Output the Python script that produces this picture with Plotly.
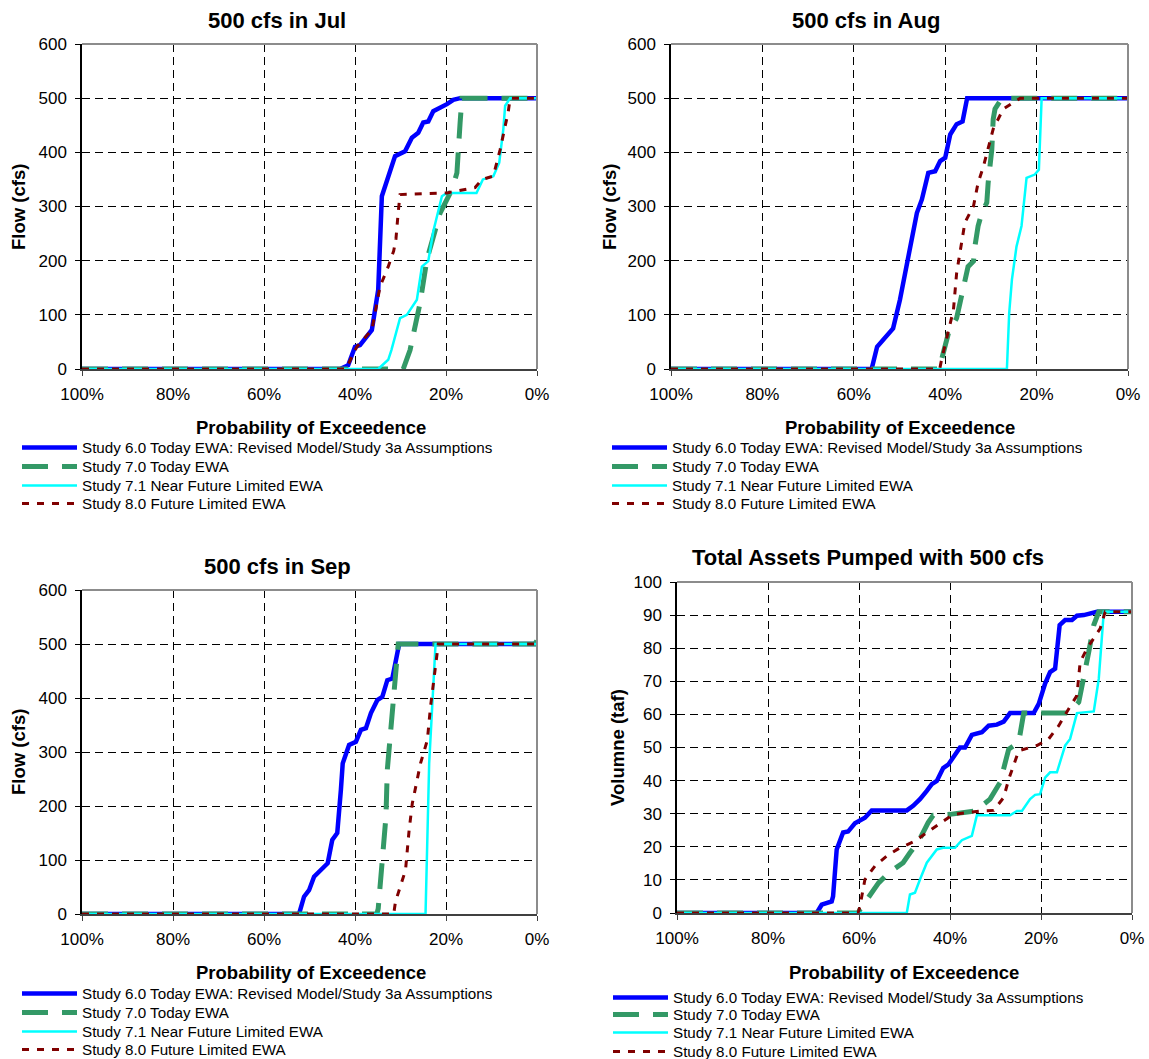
import plotly.graph_objects as go

# ---------------- data (probability of exceedence %, value) ----------------
series_names = [
    "Study 6.0 Today EWA: Revised Model/Study 3a Assumptions",
    "Study 7.0 Today EWA",
    "Study 7.1 Near Future Limited EWA",
    "Study 8.0 Future Limited EWA",
]
x_tick_vals = [100, 80, 60, 40, 20, 0]
x_tick_text = ["100%", "80%", "60%", "40%", "20%", "0%"]

# July
jul_s60_p = [100, 43.3, 41.5, 40.0, 38.9, 36.3, 34.9, 34.1, 31.2, 29.0, 27.5, 26.1, 25.0, 23.9, 22.8, 21.7, 19.8, 18.4, 16.9, 0]
jul_s60_q = [0, 0, 7, 41, 44, 72, 146, 319, 393, 402, 427, 436, 455, 457, 476, 480, 489, 497, 500, 500]
jul_s70_p = [100, 29.4, 27.9, 25.7, 24.2, 21.3, 18.7, 17.6, 16.9, 16.5, 0]
jul_s70_q = [0, 0, 35, 122, 202, 288, 331, 362, 455, 500, 500]
jul_s71_p = [100, 34.9, 32.7, 32.0, 30.1, 28.6, 26.4, 25.3, 23.9, 22.8, 20.9, 19.8, 13.3, 11.9, 9.6, 8.3, 7.4, 7.0, 5.9, 0]
jul_s71_q = [0, 0, 17, 35, 94, 100, 128, 189, 199, 254, 319, 325, 325, 350, 356, 381, 443, 486, 500, 500]
jul_s80_p = [100, 42.0, 39.6, 36.3, 34.5, 32.7, 31.5, 31.0, 30.5, 30.1, 19.8, 13.6, 12.1, 9.6, 8.1, 6.3, 5.9, 0]
jul_s80_q = [0, 0, 41, 72, 152, 189, 218, 240, 290, 322, 325, 335, 350, 356, 405, 476, 500, 500]

# August
aug_s60_p = [100, 56.1, 54.9, 51.4, 49.9, 48.1, 46.2, 45.1, 43.7, 42.2, 41.1, 40.0, 38.9, 37.5, 36.2, 35.2, 0]
aug_s60_q = [0, 0, 41, 75, 128, 202, 288, 313, 362, 365, 384, 390, 433, 452, 457, 500, 500]
aug_s70_p = [100, 41.2, 40.8, 39.3, 37.5, 36.0, 35.0, 33.8, 33.5, 32.8, 32.0, 30.9, 30.6, 29.8, 29.5, 29.1, 27.6, 0]
aug_s70_q = [0, 0, 17, 66, 94, 146, 189, 199, 226, 264, 288, 307, 344, 405, 461, 480, 500, 500]
aug_s71_p = [100, 26.5, 26.0, 25.4, 24.4, 23.3, 22.2, 20.4, 19.5, 18.9, 0]
aug_s71_q = [0, 0, 103, 165, 226, 264, 353, 359, 368, 500, 500]
aug_s80_p = [100, 41.2, 40.8, 38.2, 37.5, 36.8, 35.7, 33.8, 32.8, 31.7, 29.5, 27.3, 23.6, 0]
aug_s80_q = [0, 0, 17, 109, 177, 214, 270, 301, 344, 372, 443, 480, 500, 500]

# September
sep_s60_p = [100, 52.3, 51.2, 50.1, 49.0, 47.1, 46.0, 45.0, 43.9, 43.1, 42.7, 41.3, 39.8, 38.7, 37.6, 36.5, 35.1, 34.0, 32.9, 31.8, 30.3, 0]
sep_s60_q = [0, 0, 32, 44, 69, 85, 94, 137, 150, 230, 279, 313, 319, 341, 344, 372, 396, 402, 433, 436, 500, 500]
sep_s70_p = [100, 35.2, 34.9, 34.0, 33.2, 32.9, 32.1, 31.6, 31.1, 30.5, 0.5, 0]
sep_s70_q = [0, 0, 10, 94, 180, 267, 341, 402, 446, 500, 500, 506]
sep_s71_p = [100, 24.5, 23.7, 23.0, 22.3, 0]
sep_s71_q = [0, 0, 279, 402, 500, 500]
sep_s80_p = [100, 31.5, 31.1, 28.9, 28.1, 27.4, 25.6, 24.1, 23.4, 22.3, 21.7, 0]
sep_s80_q = [0, 0, 23, 81, 156, 205, 279, 322, 384, 464, 500, 500]

# Total assets pumped (taf)
tot_s60_p = [100, 69.3, 68.2, 66.0, 65.7, 64.9, 63.5, 62.4, 60.9, 58.7, 57.2, 49.5, 48.1, 46.6, 45.1, 44.0, 42.9, 41.5, 40.4, 38.9, 37.8, 36.7, 35.2, 33.0, 31.5, 29.7, 28.2, 26.8, 21.6, 20.5, 19.1, 18.0, 16.9, 15.9, 14.7, 13.2, 12.1, 10.6, 7.7, 0]
tot_s60_v = [0, 0, 2.5, 3.5, 5, 19.2, 24.3, 24.6, 27.1, 28.8, 31, 31, 32.4, 34.4, 36.9, 38.9, 39.9, 43.8, 44.8, 48, 50, 50, 53.8, 54.6, 56.6, 56.9, 57.8, 60.4, 60.4, 63.2, 69.3, 72.8, 73.8, 87, 88.5, 88.5, 89.8, 90, 91, 91]
tot_s70_p = [100, 60.2, 59.8, 57.6, 55.7, 53.5, 50.3, 48.8, 46.9, 44.8, 43.7, 40.0, 34.5, 31.2, 29.0, 27.1, 24.9, 23.8, 13.9, 11.7, 10.6, 9.5, 8.4, 7.3, 0]
tot_s70_v = [0, 0, 1, 5.1, 9.1, 12.1, 15.2, 18.2, 21.7, 27.3, 29.5, 29.8, 30.8, 34.4, 39.4, 49.5, 51.6, 60.4, 60.4, 63.7, 70.8, 78.9, 87, 91, 91]
tot_s71_p = [100, 49.5, 48.8, 47.7, 46.6, 45.1, 42.9, 41.5, 38.9, 37.4, 35.2, 34.1, 26.8, 25.3, 24.2, 22.4, 21.3, 20.2, 19.1, 18.0, 16.5, 14.7, 13.6, 12.1, 8.4, 7.3, 6.2, 0]
tot_s71_v = [0, 0, 5.6, 6.1, 10.1, 15.2, 19.2, 19.7, 19.7, 22.0, 23.3, 29.5, 29.5, 30.8, 30.8, 34.4, 35.7, 35.9, 40.9, 42.5, 42.5, 50.6, 52.6, 60.4, 60.9, 70.8, 91, 91]
tot_s80_p = [100, 60.2, 59.8, 58.7, 56.5, 53.9, 51.0, 47.7, 45.1, 41.8, 39.3, 33.4, 30.4, 28.2, 27.1, 24.9, 20.9, 18.3, 16.1, 13.9, 12.1, 11.4, 9.9, 7.0, 5.9, 0]
tot_s80_v = [0, 0, 2, 10.1, 14.2, 17.2, 19.7, 21.7, 24.3, 27.3, 29.8, 30.8, 31, 34.9, 40.4, 49, 50.6, 52.6, 56.6, 61.7, 65.7, 75.8, 79.9, 85.9, 91, 91]

panel_titles = ["500 cfs in Jul", "500 cfs in Aug", "500 cfs in Sep", "Total Assets Pumped with 500 cfs"]
y_titles = ["Flow (cfs)", "Flow (cfs)", "Flow (cfs)", "Volumne (taf)"]
x_title = "Probability of Exceedence"

# ---------------- styling ----------------
FONT = "Arial, Liberation Sans, sans-serif"
W, H = 1149, 1059

def px(x):
    return x / W

def py(y):
    return 1 - y / H

line_styles = [
    dict(color="#0000FF", width=4.5),
    dict(color="#339966", width=5, dash="26px,14px"),
    dict(color="#00FFFF", width=2.5),
    dict(color="#800000", width=3, dash="7px,8px"),
]

# plot-area boxes in pixels: (left, right, top, bottom)
boxes = [(82, 537, 44, 369), (671, 1128, 44, 369), (82, 537, 590, 914), (677, 1132, 582, 913)]
title_pos = [(277, 20), (866, 20), (277, 566), (868, 557)]
xtitle_pos = [(311, 427), (900, 427), (311, 972), (904, 972)]
ytitle_pos = [(18, 207), (609, 207), (18, 752), (617, 748)]
legend_text_x = [83, 673, 83, 674]
legend_rows = [[447, 466, 485, 503], [447, 466, 485, 503], [993, 1012, 1031, 1049], [997, 1014, 1032, 1051]]
y_ranges = [[0, 600], [0, 600], [0, 600], [0, 100]]
y_dticks = [100, 100, 100, 10]

panels = [
    [(jul_s60_p, jul_s60_q), (jul_s70_p, jul_s70_q), (jul_s71_p, jul_s71_q), (jul_s80_p, jul_s80_q)],
    [(aug_s60_p, aug_s60_q), (aug_s70_p, aug_s70_q), (aug_s71_p, aug_s71_q), (aug_s80_p, aug_s80_q)],
    [(sep_s60_p, sep_s60_q), (sep_s70_p, sep_s70_q), (sep_s71_p, sep_s71_q), (sep_s80_p, sep_s80_q)],
    [(tot_s60_p, tot_s60_v), (tot_s70_p, tot_s70_v), (tot_s71_p, tot_s71_v), (tot_s80_p, tot_s80_v)],
]

fig = go.Figure()
layout = dict(
    width=W, height=H, margin=dict(l=0, r=0, t=0, b=0, autoexpand=False),
    paper_bgcolor="white", plot_bgcolor="white",
    font=dict(family=FONT, color="black"),
    showlegend=True, annotations=[], shapes=[],
)

LEG_ITEM_OFFSET_X = 66   # text start relative to legend box left
LEG_ITEM_OFFSET_Y = 16   # row centre relative to legend box top

k = 0
for i, series in enumerate(panels):
    n = i + 1
    sfx = "" if n == 1 else str(n)
    for j, (xs, ys) in enumerate(series):
        k += 1
        leg = "legend" if k == 1 else "legend" + str(k)
        fig.add_trace(go.Scatter(
            x=xs, y=ys, mode="lines", name=series_names[j],
            line=line_styles[j], xaxis="x" + sfx, yaxis="y" + sfx,
            legend=leg, showlegend=True, hoverinfo="skip",
        ))
        layout[leg] = dict(
            x=px(legend_text_x[i] - LEG_ITEM_OFFSET_X), y=py(legend_rows[i][j] - LEG_ITEM_OFFSET_Y),
            xanchor="left", yanchor="top", xref="paper", yref="paper",
            orientation="v", itemwidth=55, bgcolor="rgba(0,0,0,0)", borderwidth=0,
            font=dict(size=15.2, family=FONT, color="black"),
            itemclick=False, itemdoubleclick=False,
        )
    l, r, t, b = boxes[i]
    layout["xaxis" + sfx] = dict(
        domain=[px(l), px(r)], anchor="y" + sfx, range=[100, 0],
        tickvals=x_tick_vals, ticktext=x_tick_text, automargin=False,
        showgrid=True, gridcolor="black", gridwidth=1, griddash="8px,5px",
        zeroline=False, showline=True, linecolor="#404040", linewidth=2,
        ticks="outside", ticklen=5, tickcolor="#404040", tickwidth=1,
        tickfont=dict(size=17, family=FONT, color="black"),
        ticklabelstandoff=4, layer="below traces",
    )
    layout["yaxis" + sfx] = dict(
        domain=[py(b), py(t)], anchor="x" + sfx, range=y_ranges[i],
        dtick=y_dticks[i], tick0=0, automargin=False,
        showgrid=True, gridcolor="black", gridwidth=1, griddash="8px,5px",
        zeroline=False, showline=True, linecolor="black", linewidth=1.5,
        ticks="outside", ticklen=5, tickcolor="black", tickwidth=1,
        tickfont=dict(size=17, family=FONT, color="black"),
        ticklabelstandoff=5, layer="below traces",
    )
    # grey plot-area border on top and right
    layout["shapes"].append(dict(type="line", xref="x" + sfx + " domain", yref="y" + sfx + " domain",
                                 x0=0, x1=1, y0=1, y1=1, line=dict(color="#8c8c8c", width=2)))
    layout["shapes"].append(dict(type="line", xref="x" + sfx + " domain", yref="y" + sfx + " domain",
                                 x0=1, x1=1, y0=0, y1=1, line=dict(color="#8c8c8c", width=2)))
    tx, ty = title_pos[i]
    layout["annotations"].append(dict(text=panel_titles[i], xref="paper", yref="paper",
                                      x=px(tx), y=py(ty), xanchor="center", yanchor="middle",
                                      showarrow=False, font=dict(size=22, family=FONT, weight="bold")))
    ax, ay = xtitle_pos[i]
    layout["annotations"].append(dict(text=x_title, xref="paper", yref="paper",
                                      x=px(ax), y=py(ay), xanchor="center", yanchor="middle",
                                      showarrow=False, font=dict(size=18.5, family=FONT, weight="bold")))
    yx, yy = ytitle_pos[i]
    layout["annotations"].append(dict(text=y_titles[i], xref="paper", yref="paper",
                                      x=px(yx), y=py(yy), xanchor="center", yanchor="middle",
                                      textangle=-90, showarrow=False,
                                      font=dict(size=18.5, family=FONT, weight="bold")))

fig.update_layout(**layout)
fig.write_html("out.html", config={"displayModeBar": False},
               post_script="document.body.style.margin='0px';")
